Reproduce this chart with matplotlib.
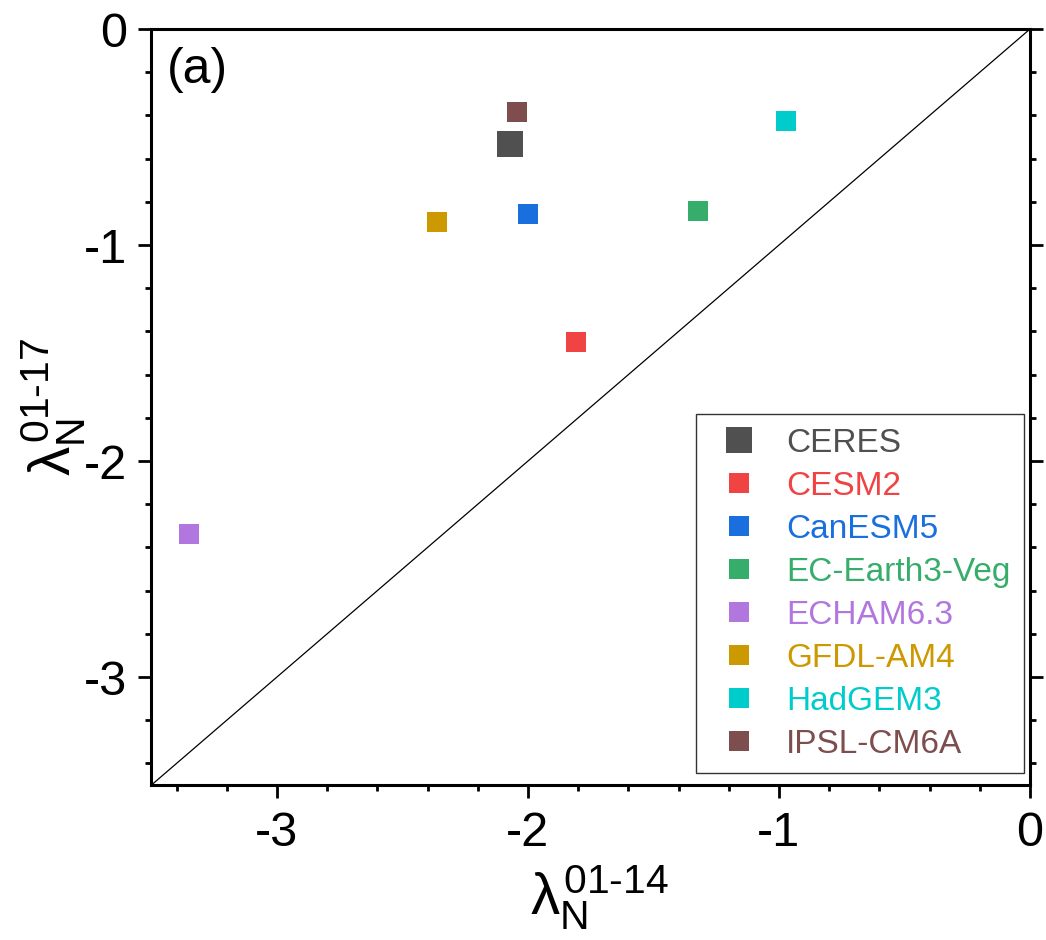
import matplotlib
matplotlib.use("Agg")
import matplotlib.pyplot as plt
from matplotlib.ticker import MultipleLocator

plt.rcParams['font.family'] = ['Liberation Sans', 'DejaVu Sans']
plt.rcParams['axes.unicode_minus'] = False
plt.rcParams['mathtext.fontset'] = 'custom'
plt.rcParams['mathtext.rm'] = 'Liberation Sans'
plt.rcParams['mathtext.it'] = 'Liberation Sans'
plt.rcParams['mathtext.bf'] = 'Liberation Sans:bold'

models = ["CERES", "CESM2", "CanESM5", "EC-Earth3-Veg", "ECHAM6.3",
          "GFDL-AM4", "HadGEM3", "IPSL-CM6A"]
lam_01_14 = [-2.072, -1.810, -1.998, -1.323, -3.349, -2.363, -0.974, -2.042]
lam_01_17 = [-0.530, -1.449, -0.856, -0.843, -2.340, -0.894, -0.426, -0.384]
colors = ["#505050", "#F04343", "#1A6FDF", "#37AD6B", "#B177DE",
          "#CC9900", "#00CCCC", "#7E4E4E"]
marker_sizes = [18.5, 15, 15, 15, 15, 15, 15, 15]

fig = plt.figure(figsize=(10.46, 9.40), dpi=100)
ax = fig.add_axes([0.1448, 0.1649, 0.8399, 0.8042])

ax.plot([-3.5, 0], [-3.5, 0], color='black', lw=0.9, zorder=1)

handles = []
for name, x, y, c, ms in zip(models, lam_01_14, lam_01_17, colors, marker_sizes):
    h, = ax.plot([x], [y], linestyle='none', marker='s', ms=ms, color=c,
                 markeredgewidth=0, label=name, zorder=3)
    handles.append(h)

ax.set_xlim(-3.5, 0)
ax.set_ylim(-3.5, 0)
ax.xaxis.set_major_locator(MultipleLocator(1))
ax.yaxis.set_major_locator(MultipleLocator(1))
ax.xaxis.set_minor_locator(MultipleLocator(0.2))
ax.yaxis.set_minor_locator(MultipleLocator(0.2))

for s in ax.spines.values():
    s.set_linewidth(2.2)
ax.tick_params(which='both', direction='out', top=False, right=True,
               labelright=False, width=2.0)
ax.tick_params(which='major', length=9.5, labelsize=35, pad=8)
ax.tick_params(which='minor', length=4.5)
ax.tick_params(axis='x', which='major', pad=9)

ax.set_xlabel(r'$\lambda_{\mathrm{N}}^{\mathrm{01\text{-}14}}$', fontsize=42)
ax.xaxis.set_label_coords(0.51, -0.103)
ax.set_ylabel(r'$\lambda_{\mathrm{N}}^{\mathrm{01\text{-}17}}$', fontsize=42, labelpad=-3)

ax.text(0.018, 0.976, '(a)', transform=ax.transAxes, fontsize=36,
        ha='left', va='top')

leg = ax.legend(handles=handles, loc='lower right',
                bbox_to_anchor=(0.993, 0.0159), borderaxespad=0,
                fontsize=24, frameon=True, fancybox=False, edgecolor='black',
                handlelength=1.8, handletextpad=0.5, labelspacing=0.36,
                borderpad=0.4, markerscale=1.0)
leg.get_frame().set_linewidth(1.0)
for t, c in zip(leg.get_texts(), colors):
    t.set_color(c)

fig.savefig('out.png', dpi=100)
